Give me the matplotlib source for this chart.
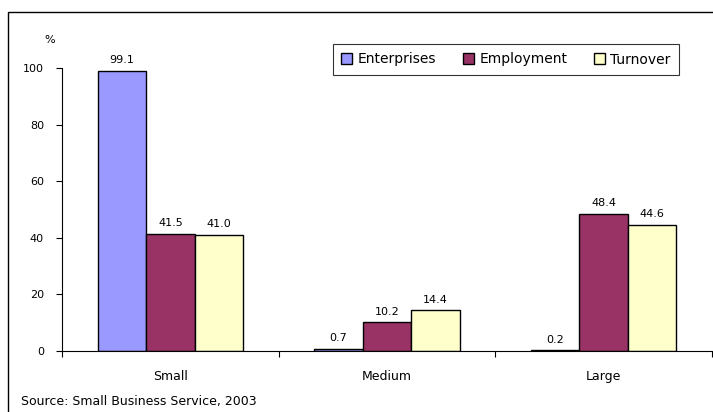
import matplotlib.pyplot as plt
import numpy as np
from matplotlib.patches import Rectangle

# Share of UK businesses by size band (%)
sizes = ["Small", "Medium", "Large"]
enterprises = [99.1, 0.7, 0.2]
employment = [41.5, 10.2, 48.4]
turnover = [41.0, 14.4, 44.6]

series = [("Enterprises", enterprises, "#9999FF"),
          ("Employment", employment, "#993366"),
          ("Turnover", turnover, "#FFFFCC")]

plt.rcParams["font.family"] = ["DejaVu Sans"]

fig = plt.figure(figsize=(7.13, 4.12), dpi=100)
ax = fig.add_axes([62 / 713, 1 - 351 / 412, 650 / 713, 283 / 412])

x = np.arange(len(sizes))
w = 0.224
for i, (name, vals, col) in enumerate(series):
    bars = ax.bar(x + (i - 1) * w, vals, w, color=col, edgecolor="black",
                  linewidth=1.0, label=name)
    for b, v in zip(bars, vals):
        ax.annotate("%.1f" % v, (b.get_x() + b.get_width() / 2, v),
                    xytext=(0, 4), textcoords="offset points",
                    ha="center", va="bottom", fontsize=8)

ax.set_xlim(-0.5, 2.5)
ax.set_ylim(0, 100)
ax.set_yticks(range(0, 101, 20))
ax.set_xticks(x)
ax.set_xticklabels(sizes, fontsize=9)
ax.set_xticks([-0.5, 0.5, 1.5, 2.5], minor=True)
ax.tick_params(axis="x", which="major", length=0, pad=14)
ax.tick_params(axis="x", which="minor", length=4, width=0.8, direction="out")
ax.tick_params(axis="y", length=4, width=0.8, direction="out", labelsize=8, pad=9)
for s in ["top", "right"]:
    ax.spines[s].set_visible(False)
for s in ["left", "bottom"]:
    ax.spines[s].set_linewidth(0.8)

fig.text(50 / 713, 1 - 40 / 412, "%", fontsize=8, ha="center", va="center")

leg = ax.legend(loc="center", bbox_to_anchor=(506 / 713, 1 - 59.5 / 412),
                bbox_transform=fig.transFigure, ncol=3, fontsize=10,
                frameon=True, fancybox=False, shadow=False, borderaxespad=0,
                handlelength=0.8, handleheight=0.8, handletextpad=0.4,
                columnspacing=1.9, borderpad=0.6)
leg.get_frame().set_edgecolor("black")
leg.get_frame().set_linewidth(0.8)

fig.text(21 / 713, 1 - 401 / 412, "Source: Small Business Service, 2003",
         fontsize=9, ha="left", va="center")

# outer chart frame (only top and left edges fall inside the image)
fig.patches.append(Rectangle((8 / 713, -0.05), 1.0, 1 - 12 / 412 + 0.05,
                             transform=fig.transFigure, fill=False,
                             edgecolor="black", linewidth=1.0))

fig.savefig("out.png", dpi=100)
